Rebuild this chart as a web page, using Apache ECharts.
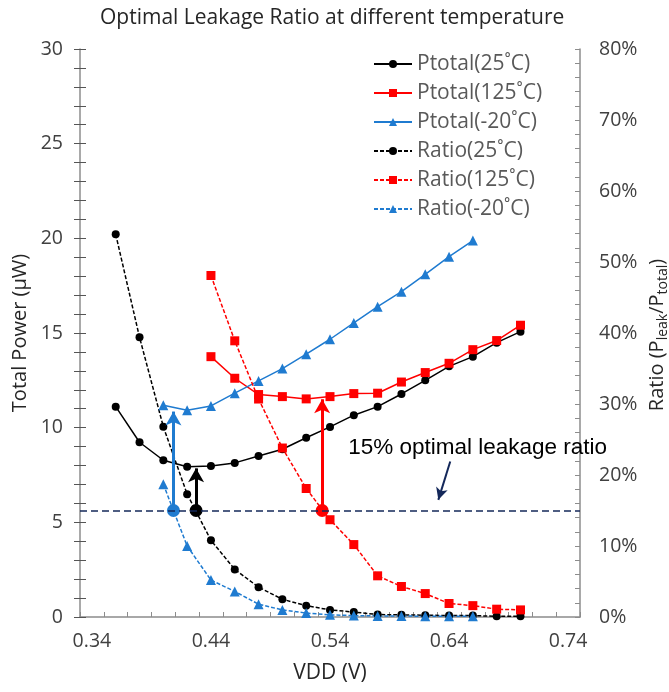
<!DOCTYPE html>
<html>
<head>
<meta charset="utf-8">
<script src="https://cdn.jsdelivr.net/npm/echarts@6/dist/echarts.min.js"></script>
<style>
  html, body { margin: 0; padding: 0; background: #ffffff; overflow: hidden; }
  #chart { width: 669px; height: 692px; }
</style>
</head>
<body>
<div id="chart"></div>
<script>
// Supply voltage sweep (V)
const vdd = [0.36, 0.38, 0.40, 0.42, 0.44, 0.46, 0.48, 0.50, 0.52, 0.54, 0.56, 0.58, 0.60, 0.62, 0.64, 0.66, 0.68, 0.70];

// Total power (µW) per temperature
const ptotal25  = [11.11, 9.23, 8.28, 7.94, 7.98, 8.14, 8.50, 8.86, 9.47, 10.04, 10.66, 11.11, 11.78, 12.50, 13.24, 13.75, 14.49, 15.07];
const ptotal125 = [null, null, null, null, 13.75, 12.61, 11.75, 11.64, 11.52, 11.64, 11.80, 11.82, 12.41, 12.91, 13.40, 14.12, 14.60, 15.41];
const ptotalM20 = [null, null, 11.18, 10.92, 11.15, 11.82, 12.47, 13.12, 13.88, 14.67, 15.53, 16.39, 17.18, 18.10, 19.03, 19.88, null, null];

// Leakage ratio Pleak/Ptotal (%) per temperature
const ratio25  = [53.9, 39.4, 26.8, 17.3, 10.8, 6.7, 4.2, 2.5, 1.6, 1.0, 0.7, 0.35, 0.3, 0.25, 0.2, 0.2, 0.1, 0.1];
const ratio125 = [null, null, null, null, 48.1, 38.9, 30.7, 23.8, 18.1, 13.7, 10.2, 5.8, 4.3, 3.3, 1.9, 1.6, 1.1, 1.0];
const ratioM20 = [null, null, 18.7, 10.0, 5.2, 3.6, 1.8, 1.0, 0.55, 0.3, 0.2, 0.15, 0.15, 0.1, 0.1, 0.1, null, null];

// Optimal operating points: VDD where the ratio crosses the target, and Ptotal there
const optimalRatio = 15;
const optVdd    = { t25: 0.4275, t125: 0.5334, tM20: 0.4085 };
const optPtotal = { t25: 7.85,   t125: 11.5,   tM20: 10.85 };

// Axis ticks and labels
const xTickLabels = ['0.34', '0.44', '0.54', '0.64', '0.74'];
const xMinorTicks = [0.33, 0.35, 0.37, 0.39, 0.41, 0.43, 0.45, 0.47, 0.49, 0.51, 0.53, 0.55, 0.57, 0.59, 0.61, 0.63, 0.65, 0.67, 0.69, 0.71, 0.73, 0.75];
const leftTicks = Array.from({ length: 31 }, (_, i) => i);
const rightTicks = Array.from({ length: 41 }, (_, i) => i * 2);

const LEFT_MAX = 30, RIGHT_MAX = 80;
const toLeft = r => r * LEFT_MAX / RIGHT_MAX;

const BLACK = '#000000', RED = '#ff0000', BLUE = '#1f7bd0', NAVY = '#14285a';
const AXIS = '#8c8c8c', LABEL = '#404040';
const FONT = '"Open Sans", "Noto Sans", sans-serif';

const pairs = arr => vdd.map((v, i) => [v, arr[i]]);

function arrow(x, yTop, color) {
  return {
    silent: true,
    animation: false,
    label: { show: false },
    lineStyle: { color: color, width: 3, type: 'solid' },
    emphasis: { disabled: true },
    data: [[
      { coord: [x, toLeft(optimalRatio)], symbol: 'circle', symbolSize: 13 },
      { coord: [x, yTop], symbol: 'arrow', symbolSize: [12, 14] }
    ]]
  };
}

function lineSeries(name, arr, color, symbol, size, dashed, yAxisIndex) {
  return {
    name: name,
    type: 'line',
    yAxisIndex: yAxisIndex,
    data: pairs(arr),
    connectNulls: false,
    symbol: symbol,
    symbolSize: size,
    showSymbol: true,
    itemStyle: { color: color },
    lineStyle: { color: color, width: 1.5, type: dashed ? [4, 2] : 'solid' },
    emphasis: { disabled: true },
    animation: false
  };
}

const s25  = lineSeries('Ptotal(25˚C)',  ptotal25,  BLACK, 'circle',   8, false, 0);
const s125 = lineSeries('Ptotal(125˚C)', ptotal125, RED,   'rect',     9, false, 0);
const sM20 = lineSeries('Ptotal(-20˚C)', ptotalM20, BLUE,  'triangle', 10, false, 0);
const r25  = lineSeries('Ratio(25˚C)',   ratio25,   BLACK, 'circle',   8, true, 1);
const r125 = lineSeries('Ratio(125˚C)',  ratio125,  RED,   'rect',     9, true, 1);
const rM20 = lineSeries('Ratio(-20˚C)',  ratioM20,  BLUE,  'triangle', 10, true, 1);

s25.markLine  = arrow(optVdd.t25,  optPtotal.t25,  BLACK);
s125.markLine = arrow(optVdd.t125, optPtotal.t125, RED);
sM20.markLine = arrow(optVdd.tM20, optPtotal.tM20, BLUE);

// Target-ratio reference line plus its callout
r25.markLine = {
  silent: true,
  animation: false,
  symbol: 'none',
  label: { show: false },
  emphasis: { disabled: true },
  data: [
    { yAxis: optimalRatio, lineStyle: { color: NAVY, width: 1.5, type: [7, 4] } },
    [
      { coord: [0.641, 21.9], symbol: 'none', lineStyle: { color: NAVY, width: 2, type: 'solid' } },
      { coord: [0.631, 16.5], symbol: 'arrow', symbolSize: [9, 12] }
    ]
  ]
};
r25.markPoint = {
  silent: true,
  animation: false,
  symbol: 'rect',
  symbolSize: 0,
  data: [{ coord: [0.664, 23.9] }],
  label: {
    show: true,
    position: 'inside',
    formatter: '15% optimal leakage ratio',
    color: '#000000',
    fontFamily: '"Liberation Sans", Arial, sans-serif',
    fontSize: 22.5
  }
};

const chart = echarts.init(document.getElementById('chart'), null, { renderer: 'canvas' });

chart.setOption({
  animation: false,
  backgroundColor: '#ffffff',
  title: {
    text: 'Optimal Leakage Ratio at different temperature',
    left: 95,
    top: 3,
    textStyle: { fontFamily: FONT, fontSize: 21, fontWeight: 'normal', color: '#262626' }
  },
  legend: {
    orient: 'vertical',
    left: 368,
    top: 48,
    itemWidth: 38,
    itemHeight: 10,
    itemGap: 7,
    textStyle: { fontFamily: FONT, fontSize: 21, color: '#595959', lineHeight: 22 },
    selectedMode: false,
    data: ['Ptotal(25˚C)', 'Ptotal(125˚C)', 'Ptotal(-20˚C)', 'Ratio(25˚C)', 'Ratio(125˚C)', 'Ratio(-20˚C)']
  },
  // Right-hand axis title with subscripts, rotated to read bottom-to-top
  graphic: [{
    type: 'text',
    x: 657,
    y: 335,
    rotation: Math.PI / 2,
    silent: true,
    style: {
      text: 'Ratio (P{sub|leak}/P{sub|total})',
      fontFamily: FONT,
      fontSize: 20,
      fill: '#262626',
      align: 'center',
      verticalAlign: 'middle',
      lineHeight: 26,
      rich: {
        sub: { fontFamily: FONT, fontSize: 14, fill: '#262626', lineHeight: 15, verticalAlign: 'bottom' }
      }
    }
  }],
  grid: { left: 80, right: 89, top: 49, bottom: 75, containLabel: false, outerBoundsMode: 'none' },
  xAxis: {
    type: 'value',
    min: 0.33,
    max: 0.75,
    name: 'VDD (V)',
    nameLocation: 'middle',
    nameGap: 46,
    nameTextStyle: { fontFamily: FONT, fontSize: 21, color: '#262626' },
    axisLine: { show: true, lineStyle: { color: AXIS, width: 1.5 } },
    axisTick: { show: true, inside: true, length: 5, lineStyle: { color: AXIS }, customValues: xMinorTicks },
    axisLabel: {
      show: true, margin: 14, fontFamily: FONT, fontSize: 19.5, color: LABEL,
      customValues: xTickLabels.map(Number),
      formatter: v => xTickLabels.find(t => Math.abs(Number(t) - v) < 1e-6) || ''
    },
    splitLine: { show: false }
  },
  yAxis: [
    {
      type: 'value',
      position: 'left',
      min: 0,
      max: LEFT_MAX,
      interval: 5,
      name: 'Total Power (μW)',
      nameLocation: 'middle',
      nameRotate: 90,
      nameGap: 45,
      nameTextStyle: { fontFamily: FONT, fontSize: 20, color: '#262626' },
      axisLine: { show: true, lineStyle: { color: AXIS, width: 1.5 } },
      axisTick: { show: true, inside: false, length: 6, lineStyle: { color: '#555555' }, customValues: leftTicks },
      axisLabel: { fontFamily: FONT, fontSize: 19.5, color: LABEL, margin: 17 },
      splitLine: { show: false }
    },
    {
      type: 'value',
      position: 'right',
      min: 0,
      max: RIGHT_MAX,
      interval: 10,
      axisLine: { show: true, lineStyle: { color: AXIS, width: 1.5 } },
      axisTick: { show: true, inside: true, length: 5, lineStyle: { color: AXIS }, customValues: rightTicks },
      axisLabel: { fontFamily: FONT, fontSize: 19.5, color: LABEL, margin: 19, formatter: '{value}%' },
      splitLine: { show: false }
    },
    {
      // inner half of the crossing ticks on the power axis
      type: 'value',
      position: 'left',
      min: 0,
      max: LEFT_MAX,
      interval: 5,
      axisLine: { show: false },
      axisTick: { show: true, inside: true, length: 6, lineStyle: { color: '#555555' }, customValues: leftTicks },
      axisLabel: { show: false },
      splitLine: { show: false }
    }
  ],
  series: [s25, s125, sM20, r25, r125, rM20]
});
</script>
</body>
</html>
